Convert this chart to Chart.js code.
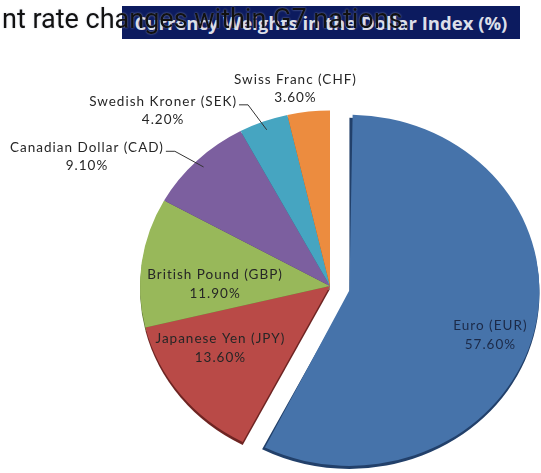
<!DOCTYPE html>
<html>
<head>
<meta charset="utf-8">
<title>Currency Weights in the Dollar Index</title>
<script src="https://cdn.jsdelivr.net/npm/chart.js@4.4.1/dist/chart.umd.min.js"></script>
<style>
  html, body { margin: 0; padding: 0; background: #fff; }
  #wrap { position: relative; width: 541px; height: 473px; overflow: hidden; }
  #pie { position: absolute; left: 0; top: 0; }
  .banner { position: absolute; left: 122px; top: 6px; width: 398px; height: 33px; background: #0c1b5f;
            color: #dcdfe8; font: bold 18.5px "Open Sans", sans-serif; line-height: 33px; text-align: center; white-space: nowrap; }
  .caption { position: absolute; left: 2px; top: 3px; font: 27px Roboto, sans-serif; color: #111; white-space: nowrap;
             text-shadow: 0 0 2px rgba(190, 195, 215, 0.7); }
</style>
</head>
<body>
<div id="wrap">
  <canvas id="pie" width="541" height="473"></canvas>
  <div class="banner">Currency Weights in the Dollar Index (%)</div>
  <div class="caption">nt rate changes within G7 nations.</div>
</div>
<script>
const currencies = ['Euro', 'Japanese Yen', 'British Pound', 'Canadian Dollar', 'Swedish Kroner', 'Swiss Franc'];
const codes = ['EUR', 'JPY', 'GBP', 'CAD', 'SEK', 'CHF'];
const weights = [57.6, 13.6, 11.9, 9.1, 4.2, 3.6];

const sliceColors = ['#4673aa', '#b94a47', '#98b85a', '#7c5f9f', '#46a5c1', '#ec8c3f'];
const rimColors = ['#22406a', '#6e2422', '#5b7230', '#4a355f', '#236478', '#9a5418'];

const PIE_R = 190;
const SQUASH = 0.924;   // flatten the disc a bit so it looks tilted
const EXPLODE = 80;     // chart.js moves an arc by a quarter of its offset
const RIM = 3;
const LABEL_FONT = '13.5px Lato';

// how each slice gets its label
const labelSpots = [
  { inside: true, k: 0.78, dx: -3, dy: 12 },
  { inside: true, k: 0.66, dx: -11, dy: -10 },
  { inside: true, k: 0.60, dx: -2, dy: 12 },
  { inside: false, leader: true },
  { inside: false, leader: true },
  { inside: false, leader: false, dx: -3, dy: -2 }
];

const tiltPlugin = {
  id: 'tilt',
  afterDatasetUpdate(chart) {
    // offset also grows big arcs; pull the Euro back to the common radius
    chart.getDatasetMeta(0).data.forEach(arc => {
      const shift = (arc.options.offset || 0) / 4;
      if (!shift) return;
      const fix = 1 - Math.sin(Math.min(Math.PI, arc.circumference));
      arc.outerRadius -= shift * fix;
    });
  },
  beforeDatasetsDraw(chart) {
    const ctx = chart.ctx;
    const arcs = chart.getDatasetMeta(0).data;
    const cx = arcs[0].x, cy = arcs[0].y;
    ctx.save();
    ctx.translate(cx, cy);
    ctx.scale(1, SQUASH);
    ctx.translate(-cx, -cy);
    // darker copy underneath gives the disc its thickness
    arcs.forEach((arc, i) => {
      const mid = (arc.startAngle + arc.endAngle) / 2;
      const shift = (arc.options.offset || 0) / 4;
      const x = arc.x + Math.cos(mid) * shift;
      const y = arc.y + Math.sin(mid) * shift + RIM / SQUASH;
      ctx.beginPath();
      ctx.moveTo(x, y);
      ctx.arc(x, y, PIE_R, arc.startAngle, arc.endAngle);
      ctx.closePath();
      ctx.fillStyle = rimColors[i];
      ctx.fill();
    });
  },
  afterDatasetsDraw(chart) {
    chart.ctx.restore();
  }
};

const labelPlugin = {
  id: 'sliceLabels',
  afterDraw(chart) {
    const ctx = chart.ctx;
    const arcs = chart.getDatasetMeta(0).data;
    ctx.save();
    ctx.font = LABEL_FONT;
    ctx.letterSpacing = '1px';
    ctx.textAlign = 'center';
    ctx.textBaseline = 'middle';
    ctx.strokeStyle = '#333';
    ctx.lineWidth = 1;
    arcs.forEach((arc, i) => {
      const spot = labelSpots[i];
      const mid = (arc.startAngle + arc.endAngle) / 2;
      const name = currencies[i] + ' (' + codes[i] + ')';
      const pct = weights[i].toFixed(2) + '%';
      if (spot.inside) {
        const shift = (arc.options.offset || 0) / 4;
        const d = PIE_R * spot.k;
        const x = arc.x + Math.cos(mid) * (shift + d) + spot.dx;
        const y = arc.y + Math.sin(mid) * (shift + d) * SQUASH + spot.dy;
        ctx.fillStyle = i === 0 ? '#1c2a48' : '#262626';
        ctx.fillText(name, x, y - 9);
        ctx.fillText(pct, x, y + 10);
      } else {
        const a = mid - 2 * Math.PI / 180;
        const ex = arc.x + Math.cos(a) * (PIE_R + 24);
        const ey = arc.y + Math.sin(a) * (PIE_R + 24) * SQUASH;
        ctx.fillStyle = '#262626';
        if (spot.leader) {
          const w = ctx.measureText(name).width;
          const nx = ex - 11 - w / 2;
          ctx.fillText(name, nx, ey - 2);
          ctx.fillText(pct, nx, ey + 16);
          const ix = arc.x + Math.cos(mid) * PIE_R * 0.95;
          const iy = arc.y + Math.sin(mid) * PIE_R * 0.95 * SQUASH;
          ctx.beginPath();
          ctx.moveTo(ex - 9, ey + 1.5);
          ctx.lineTo(ex, ey + 1.5);
          ctx.lineTo(ix, iy);
          ctx.stroke();
        } else {
          ctx.fillText(name, ex + spot.dx, ey - 9 + spot.dy);
          ctx.fillText(pct, ex + spot.dx, ey + 9 + spot.dy);
        }
      }
    });
    ctx.restore();
  }
};

new Chart(document.getElementById('pie'), {
  type: 'pie',
  data: {
    labels: currencies,
    datasets: [{
      data: weights,
      backgroundColor: sliceColors,
      borderWidth: 0,
      offset: codes.map(c => c === 'EUR' ? EXPLODE : 0)
    }]
  },
  options: {
    responsive: false,
    animation: false,
    events: [],
    radius: PIE_R,
    layout: { padding: { left: 119, top: 99 } },
    plugins: {
      legend: { display: false },
      tooltip: { enabled: false }
    }
  },
  plugins: [tiltPlugin, labelPlugin]
});
</script>
</body>
</html>
